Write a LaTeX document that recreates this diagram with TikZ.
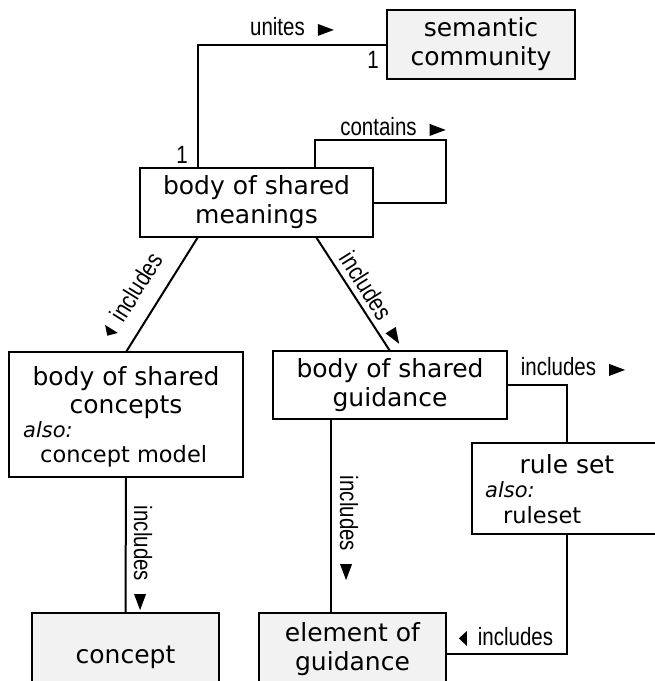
\documentclass[tikz,border=0pt]{standalone}
\usepackage{fontspec}
\newfontfamily\boxfont{DejaVu Sans}
\newfontfamily\lblfont[FakeStretch=0.82]{Liberation Sans}
\newcommand\rtri{\tikz[x=1pt,y=1pt,baseline=0pt]\fill[black] (0,0) -- (16,6) -- (0,12) -- cycle;}
\newcommand\ltri{\tikz[x=1pt,y=1pt,baseline=0pt]\fill[black] (8,0) -- (0,7.5) -- (8,15) -- cycle;}
\definecolor{boxgray}{RGB}{242,242,242}
\begin{document}
\begin{tikzpicture}[x=1pt,y=-1pt,
  box/.style={draw, line width=2.5pt, inner sep=0pt, outer sep=0pt, anchor=north west,
    font=\boxfont\fontsize{25}{29}\selectfont, align=center},
  gbox/.style={box, fill=boxgray},
  conn/.style={draw, line width=2pt},
  lbl/.style={font=\lblfont\fontsize{25}{28}\selectfont, inner sep=0pt},
  maintext/.style={font=\boxfont\fontsize{25}{29}\selectfont, anchor=base, inner sep=0pt},
  aliastext/.style={font=\boxfont\fontsize{22.5}{27}\selectfont, anchor=base west, inner sep=0pt},
  alsotext/.style={font=\boxfont\itshape\fontsize{21}{25}\selectfont, anchor=base west, inner sep=0pt}]
\useasboundingbox (0,0) rectangle (655,681);

% boxes
\node[gbox, minimum width=188pt, minimum height=69pt] (sc) at (387,10) {semantic\\community};
\node[box, minimum width=233pt, minimum height=69pt] (bosm) at (140,168) {body of shared\\meanings};
\node[box, minimum width=234pt, minimum height=125pt] (bosc) at (9,352) {};
\node[maintext] (bosc-t1) at (126,385) {body of shared};
\node[maintext] (bosc-t2) at (126,413) {concepts};
\node[alsotext] (bosc-t3) at (23,437) {also:};
\node[aliastext] (bosc-t4) at (40,462) {concept model};
\node[box, minimum width=234pt, minimum height=68pt] (bosg) at (273,351) {body of shared\\guidance};
\node[box, minimum width=190pt, minimum height=91pt] (rs) at (472,443) {};
\node[maintext] (rs-t1) at (567,473) {rule set};
\node[alsotext] (rs-t2) at (485,497) {also:};
\node[aliastext] (rs-t3) at (503,523) {ruleset};
\node[gbox, minimum width=187pt, minimum height=88pt] (concept) at (32,613) {concept};
\node[gbox, minimum width=187pt, minimum height=72pt] (eog) at (259,613) {element of\\guidance};

% connectors
\coordinate (u1) at (198,44.5);
\draw[conn] (bosm.north -| u1) -- (u1) -- (sc.west);
\coordinate (c1) at (315,140);
\coordinate (c2) at (446,140);
\draw[conn] (bosm.north -| c1) -- (c1) -- (c2) |- (bosm.east);
\coordinate (d1) at (198,237);
\draw[conn] (bosm.south -| d1) -- (bosc.north);
\coordinate (d2) at (316,237);
\draw[conn] (bosm.south -| d2) -- (bosg.north);
\draw[conn] (bosg.east) -| (rs.north);
\draw[conn] (bosc.south) -- (concept.north);
\coordinate (g1) at (331,500);
\draw[conn] (bosg.south -| g1) -- (eog.north -| g1);
\coordinate (r1) at (567,654);
\draw[conn] (rs.south) -- (r1) -- (r1 -| eog.east);

% labels
\node[lbl] (l-unites) at (292,27) {unites\hspace{13pt}\rtri};
\node[lbl] (l-one-a) at (373,60) {1};
\node[lbl] (l-one-b) at (182,155) {1};
\node[lbl] (l-contains) at (393,127) {contains\hspace{13pt}\rtri};
\node[lbl, rotate=58] (l-inc1) at (131,295) {\ltri\hspace{11pt}includes};
\node[lbl, rotate=-58] (l-inc2) at (374,298) {includes\hspace{13pt}\rtri};
\node[lbl] (l-inc3) at (573,367) {includes\hspace{13pt}\rtri};
\node[lbl, rotate=-90] (l-inc4) at (143,558) {includes\hspace{13pt}\rtri};
\node[lbl, rotate=-90] (l-inc5) at (349,528) {includes\hspace{13pt}\rtri};
\node[lbl] (l-inc6) at (506,637) {\ltri\hspace{11pt}includes};
\end{tikzpicture}
\end{document}
